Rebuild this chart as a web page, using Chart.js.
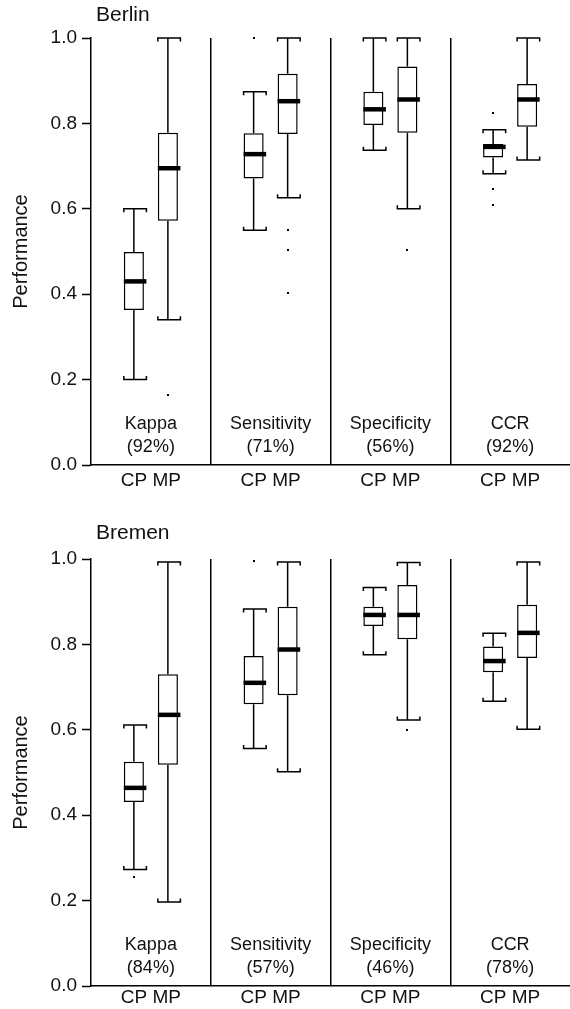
<!DOCTYPE html>
<html><head><meta charset="utf-8">
<script src="https://cdn.jsdelivr.net/npm/chart.js@4"></script>
<style>
html,body{margin:0;padding:0;background:#fff;}
#p1{position:absolute;left:0;top:0;width:570px;height:521px;}
#p2{position:absolute;left:0;top:521px;width:570px;height:488px;}
</style></head><body>
<div id="p1"><canvas id="c1"></canvas></div>
<div id="p2"><canvas id="c2"></canvas></div>
<script>
// ---- data ----
const categories = ['Kappa', 'Sensitivity', 'Specificity', 'CCR'];
const methods = ['CP', 'MP'];
const yTicks = [0.0, 0.2, 0.4, 0.6, 0.8, 1.0];

const berlinShare = ['92%', '71%', '56%', '92%'];
const bremenShare = ['84%', '57%', '46%', '78%'];

// five-number summaries per category: [min, q1, median, q3, max]
const berlinCP = [
  [0.200, 0.363, 0.430, 0.499, 0.600],
  [0.550, 0.671, 0.728, 0.777, 0.874],
  [0.737, 0.796, 0.833, 0.874, 1.000],
  [0.682, 0.720, 0.745, 0.752, 0.785]
];
const berlinMP = [
  [0.340, 0.572, 0.695, 0.778, 1.000],
  [0.626, 0.775, 0.852, 0.916, 1.000],
  [0.600, 0.778, 0.856, 0.933, 1.000],
  [0.714, 0.792, 0.856, 0.892, 1.000]
];
const berlinCPOut = [[], [1.000], [], [0.824, 0.646, 0.610]];
const berlinMPOut = [[0.163], [0.550, 0.503, 0.403], [0.503], []];

const bremenCP = [
  [0.273, 0.431, 0.464, 0.525, 0.611],
  [0.556, 0.660, 0.710, 0.773, 0.883],
  [0.776, 0.843, 0.869, 0.888, 0.933],
  [0.667, 0.735, 0.761, 0.795, 0.826]
];
const bremenMP = [
  [0.197, 0.518, 0.635, 0.730, 0.993],
  [0.502, 0.681, 0.788, 0.888, 0.993],
  [0.623, 0.812, 0.869, 0.939, 0.992],
  [0.601, 0.768, 0.827, 0.893, 0.993]
];
const bremenCPOut = [[0.256], [0.996], [], []];
const bremenMPOut = [[], [], [0.600], []];

// ---- drawing ----
const FONT = '"Liberation Sans", Arial, Helvetica, sans-serif';
const TXT = '#111';

const boxExtras = {
  id: 'boxExtras',
  afterDatasetsDraw(chart) {
    const ctx = chart.ctx, ys = chart.scales.y;
    ctx.save();
    ctx.strokeStyle = '#000';
    ctx.fillStyle = '#000';
    chart.data.datasets.forEach((ds, di) => {
      const meta = chart.getDatasetMeta(di);
      meta.data.forEach((el, i) => {
        const s = ds.stats[i];
        const x = el.x, hw = el.width / 2;
        const pMin = ys.getPixelForValue(s[0]);
        const pQ1 = ys.getPixelForValue(s[1]);
        const pMed = ys.getPixelForValue(s[2]);
        const pQ3 = ys.getPixelForValue(s[3]);
        const pMax = ys.getPixelForValue(s[4]);
        const l = x - hw, r = x + hw + 2.5;
        ctx.lineWidth = 1.5;
        ctx.beginPath();
        ctx.moveTo(x, pQ3); ctx.lineTo(x, pMax);
        ctx.moveTo(x, pQ1); ctx.lineTo(x, pMin);
        ctx.stroke();
        ctx.beginPath();
        ctx.moveTo(l, pMax + 3.5); ctx.lineTo(l, pMax); ctx.lineTo(r, pMax); ctx.lineTo(r, pMax + 3.5);
        ctx.moveTo(l, pMin - 3.5); ctx.lineTo(l, pMin); ctx.lineTo(r, pMin); ctx.lineTo(r, pMin - 3.5);
        ctx.stroke();
        ctx.lineWidth = 4.5;
        ctx.beginPath();
        ctx.moveTo(l, pMed); ctx.lineTo(r, pMed);
        ctx.stroke();
        ds.outliers[i].forEach(v => {
          const py = ys.getPixelForValue(v);
          ctx.fillRect(Math.round(x) - 1, Math.round(py) - 1, 2, 2);
        });
      });
    });
    ctx.restore();
  }
};

const panelText = {
  id: 'panelText',
  afterDraw(chart, args, opts) {
    const ctx = chart.ctx, xs = chart.scales.x, a = chart.chartArea;
    ctx.save();
    ctx.fillStyle = TXT;
    ctx.textBaseline = 'middle';
    ctx.textAlign = 'left';
    ctx.font = '21px ' + FONT;
    ctx.fillText(opts.title, a.left + 5, a.top - opts.titleGap);
    ctx.textAlign = 'center';
    ctx.font = '18px ' + FONT;
    categories.forEach((c, i) => {
      const cx = xs.getPixelForValue(i);
      ctx.fillText(c, cx, a.bottom - 41);
      ctx.fillText('(' + opts.share[i] + ')', cx, a.bottom - 18);
    });
    ctx.restore();
  }
};

function makePanel(id, title, titleGap, share, cp, mp, cpOut, mpOut, xHeight, xPad) {
  const mk = (name, stats, out) => ({
    label: name,
    data: stats.map(s => [s[1], s[3]]),
    stats: stats,
    outliers: out,
    backgroundColor: '#fff',
    borderColor: '#000',
    borderWidth: 1.5,
    borderSkipped: false,
    categoryPercentage: 0.568,
    barPercentage: 0.59
  });
  return new Chart(document.getElementById(id), {
    type: 'bar',
    data: {
      labels: categories,
      datasets: [mk(methods[0], cp, cpOut), mk(methods[1], mp, mpOut)]
    },
    plugins: [boxExtras, panelText],
    options: {
      responsive: true,
      maintainAspectRatio: false,
      animation: false,
      events: [],
      layout: { padding: { top: 38, right: 0, bottom: 0, left: 0 } },
      plugins: {
        legend: { display: false },
        tooltip: { enabled: false },
        title: { display: false },
        panelText: { title: title, titleGap: titleGap, share: share }
      },
      scales: {
        x: {
          type: 'category',
          offset: true,
          grid: {
            display: true,
            drawOnChartArea: true,
            drawTicks: false,
            offset: true,
            lineWidth: 1.5,
            color: c => (c.type === 'tick' && c.index > 0) ? '#000' : 'rgba(0,0,0,0)'
          },
          border: { display: true, color: '#000', width: 1.5 },
          ticks: {
            color: TXT,
            font: { family: FONT, size: 19 },
            padding: xPad,
            maxRotation: 0,
            autoSkip: false,
            callback: () => methods.join(' ')
          },
          afterFit: s => { s.height = xHeight; }
        },
        y: {
          min: 0,
          max: 1,
          afterBuildTicks: s => { s.ticks = yTicks.map(v => ({ value: v })); },
          ticks: {
            color: TXT,
            font: { family: FONT, size: 19 },
            padding: 5,
            callback: v => Number(v).toFixed(1)
          },
          grid: {
            drawOnChartArea: false,
            drawTicks: true,
            tickLength: 9,
            tickColor: '#000',
            tickWidth: 1.5
          },
          border: { display: true, color: '#000', width: 1.5 },
          title: {
            display: true,
            text: 'Performance',
            color: TXT,
            font: { family: FONT, size: 20 },
            padding: { top: 9.5, bottom: 0 }
          },
          afterFit: s => { s.width = 91; }
        }
      }
    }
  });
}

makePanel('c1', 'Berlin', 23, berlinShare, berlinCP, berlinMP, berlinCPOut, berlinMPOut, 56, 4);
makePanel('c2', 'Bremen', 26, bremenShare, bremenCP, bremenMP, bremenCPOut, bremenMPOut, 23, 0);
</script>
</body></html>
